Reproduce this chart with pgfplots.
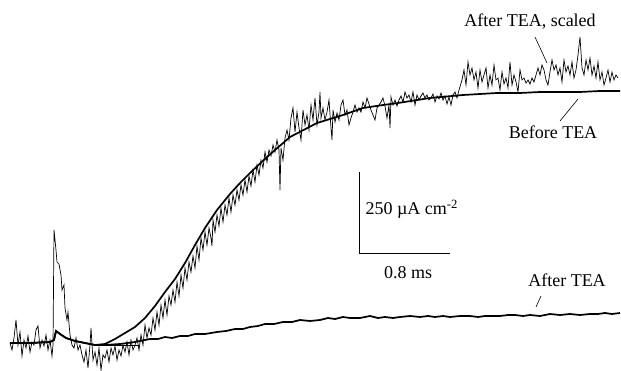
\documentclass[border=0pt]{standalone}
\usepackage{pgfplots}
\pgfplotsset{compat=1.18}
\usepackage{fontspec}
\setmainfont{Liberation Serif}
\begin{document}
\begin{tikzpicture}
\begin{axis}[width=621pt,height=371pt,scale only axis,
  xmin=0,xmax=621,ymin=0,ymax=371,y dir=reverse,
  axis lines=none,clip=false]
\path (rel axis cs:0,0) rectangle (rel axis cs:1,1);
% After TEA, scaled (thin noisy trace)
\addplot[black,line width=0.7pt] coordinates {
(10,343)(12,350)(14,338)(16,320)(18,345)(20,332)(22,356)(24,340)(26,348)(28,336)(30,352)(32,342)(34,345)(36,330)(38,326)(40,348)(42,340)(44,346)(46,335)(48,350)(50,340)(52,356)(53,345)(54,230)(56,250)(57,262)(59,264)(61,275)(62,290)(64,285)(65,308)(67,320)(68,312)(70,335)(72,345)(74,348)(76,338)(78,350)(80,345)(82,355)(84,362)(86,350)(88,368)(90,345)(91,328)(93,360)(95,352)(97,365)(99,348)(101,370)(103,355)
(105,358)(107,350)(109,362)(111,348)(113,355)(115,346)(117,360)(119,350)(121,356)(123,345)(125,352)(127,342)(129,355)(131,340)(133,350)(135,345)(137,338)(139,350)(141,335)(143,345)(145,325)(147,338)(149,328)(151,335)(153,318)(155,330)(157,312)(159,325)(161,305)(163,318)(165,300)(167,315)(169,296)(171,305)(173,290)(175,302)(177,282)(179,296)(181,275)(183,288)(185,268)(187,280)(189,262)(191,272)(193,256)(195,268)(197,246)(199,260)(201,238)(203,250)(205,232)(207,245)(209,228)(211,238)(212,246)(213,220)(215,232)(217,215)(219,226)(221,208)(223,222)(225,205)(227,215)(229,198)(231,212)(233,195)(235,205)(237,190)(239,200)(241,185)(243,195)(245,180)(247,192)(249,176)(251,186)(253,170)(255,182)(257,165)(259,175)(261,160)(263,168)(265,152)(267,162)(269,150)(271,156)(273,145)(275,152)(277,140)(279,150)(280,190)(281,148)
(283,160)(285,138)(287,130)(289,140)(291,118)(293,108)(295,132)(297,112)(299,128)(301,140)(303,110)(305,125)(307,115)(309,130)(311,105)(313,120)(315,98)(317,125)(319,112)(320,92)(321,118)(323,108)(325,120)(327,112)(329,100)(331,128)(332,140)(333,110)(335,122)(337,113)(339,120)(341,105)(343,100)(345,115)(347,110)(349,125)(351,118)(353,112)(355,105)(357,112)(359,108)(361,112)(363,102)(365,108)(367,98)(369,104)(371,110)(373,115)(375,120)(377,108)(379,105)(381,102)(383,98)(385,106)(387,118)(389,105)(390,128)(391,97)(393,105)(395,100)(397,106)(399,100)(401,96)(403,102)(405,92)(407,98)(409,95)(411,102)(413,92)(415,105)(417,95)(419,100)(421,96)(423,93)(425,98)(427,95)(429,100)(431,98)(433,94)(435,102)(437,96)(439,99)(441,93)(443,100)(445,96)(447,104)(449,97)(451,105)(453,95)(455,92)(457,98)(459,90)(462,80)(464,70)(466,85)(468,62)(470,75)(472,68)(474,80)(476,72)(478,88)(480,70)(482,82)(484,75)(486,68)(488,88)(490,75)(492,85)(494,65)(496,80)(498,78)(500,90)(502,72)(504,84)(506,78)(508,88)(510,62)(512,85)(514,75)(516,82)(518,92)(520,70)(522,80)(524,78)(526,83)(528,80)(530,84)(532,78)(534,82)(536,75)(538,68)(540,75)(542,65)(544,70)(546,80)(548,85)(550,72)(552,60)(554,70)(556,65)(558,75)(560,68)(562,82)(564,60)(566,72)(568,66)(570,75)(572,62)(574,78)(576,70)(578,55)(580,37)(582,68)(584,75)(586,60)(588,70)(590,58)(592,75)(594,66)(596,78)(598,62)(600,80)(602,72)(604,85)(606,78)(608,70)(610,82)(612,72)(614,80)(616,75)(618,78)
};
% Before TEA (thick smooth)
\addplot[black,line width=1.7pt] coordinates {
(10,343)(30,343)(50,342)(54,340)(56,331)(60,334)(66,338)(75,341)(85,343)(95,345)(105,344)(115,339)(125,333)(135,327)(145,318)(155,306)(165,292)(175,279)(185,263)(195,245)(205,228)(217,210)(230,194)(240,183)(250,173)(267,157)(290,137)(317,123)(343,115)(363,108)(383,105)(398,103)(430,98)(463,95)(497,93)(520,93)(540,92)(560,92)(580,92)(600,91)(620,91)
};
% After TEA (thick, small)
\addplot[black,line width=1.7pt] coordinates {
(10,343)(30,343)(50,342)(54,340)(56,331)(60,334)(66,338)(75,341)(85,343)(95,345)(105,345)(120,344)(135,342)(150,339)(158,339)(165,337)(172,338)(180,336)(188,336)(195,334)(205,334)(217,332)(226,331)(235,329)(243,329)(250,327)(258,326)(265,324)(274,324)(283,322)(292,322)(300,320)(310,321)(320,320)(328,318)(335,319)(343,317)(350,318)(360,318)(370,316)(378,318)(385,317)(393,318)(400,317)(410,316)(420,317)(428,316)(435,317)(443,316)(450,317)(460,316)(470,316)(478,317)(485,316)(493,316)(500,316)(508,315)(515,315)(523,316)(530,315)(540,316)(550,314)(560,315)(570,314)(580,315)(590,314)(598,314)(605,313)(612,314)(620,313)
};
% thin baseline segment
\addplot[black,line width=0.6pt] coordinates {(95,345)(140,345)};
% scale bar
\addplot[black,line width=0.9pt] coordinates {(359,172)(359,253)(450,253)};
\node[font=\fontsize{18}{20}\selectfont,anchor=west] at (axis cs:362,209) {250 µA cm\textsuperscript{-2}};
\node[font=\fontsize{18}{20}\selectfont] at (axis cs:408,273) {0.8 ms};
% labels
\node[font=\fontsize{18}{20}\selectfont] at (axis cs:530,22) {After TEA, scaled};
\node[font=\fontsize{18}{20}\selectfont] at (axis cs:553,132) {Before TEA};
\node[font=\fontsize{18}{20}\selectfont] at (axis cs:567,280) {After TEA};
\draw[line width=0.6pt] (axis cs:535,37) -- (axis cs:547,63);
\draw[line width=0.6pt] (axis cs:578,99) -- (axis cs:560,121);
\draw[line width=0.6pt] (axis cs:541,296) -- (axis cs:536,307);
\end{axis}
\end{tikzpicture}
\end{document}
